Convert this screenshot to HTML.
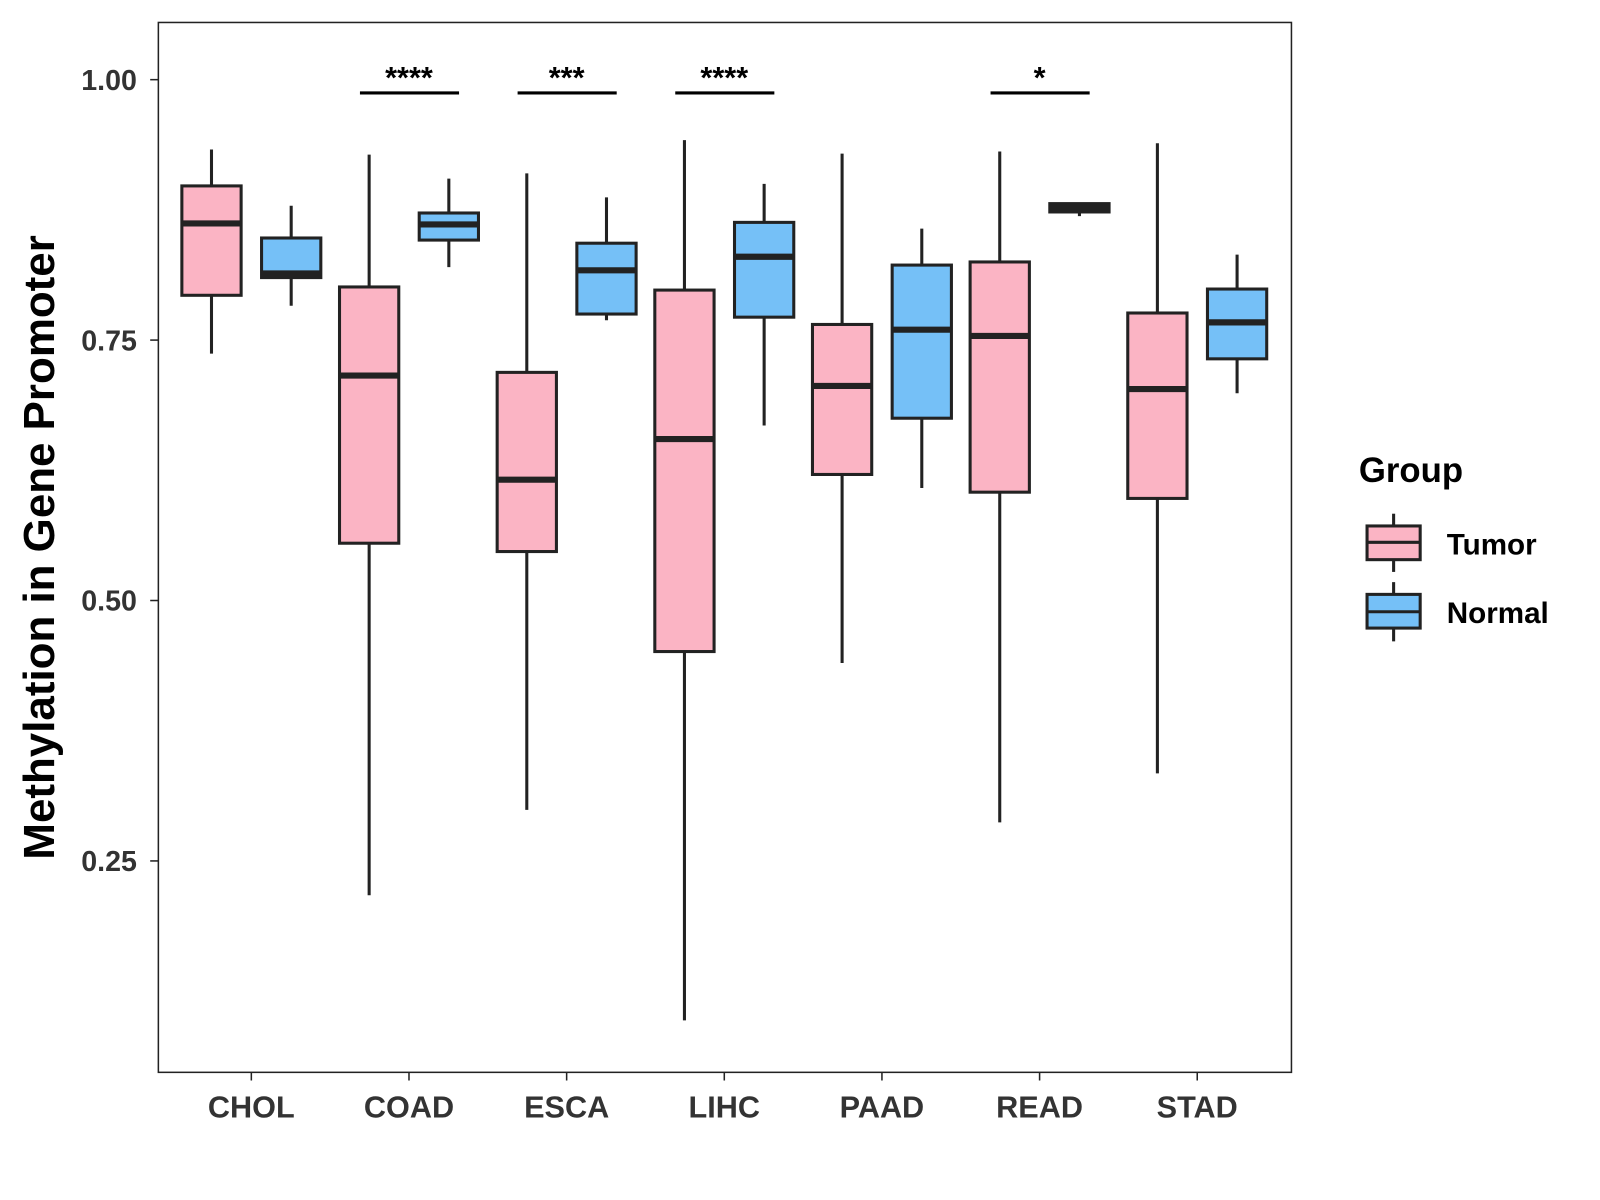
<!DOCTYPE html>
<html><head><meta charset="utf-8"><style>
body{margin:0;background:#fff;}
svg{display:block;font-family:"Liberation Sans",Arial,sans-serif;}
</style></head><body>
<svg id="chart" width="1600" height="1200" viewBox="0 0 1566 1175" preserveAspectRatio="none" xmlns="http://www.w3.org/2000/svg">
<rect x="155" y="22" width="1109" height="1028" fill="#fff" stroke="#222" stroke-width="1.5"/>
<g id="marks"></g>
<g id="axes"></g>
<text transform="translate(53,536) rotate(-90)" text-anchor="middle" font-size="43" font-weight="bold" fill="#000">Methylation in Gene Promoter</text>
<g>
<text x="1330" y="472" font-size="34" font-weight="bold">Group</text>
<g>
<line x1="1364" y1="503" x2="1364" y2="560" stroke="#222" stroke-width="3"/>
<rect x="1338" y="515" width="52" height="33" fill="#FBB4C4" stroke="#222" stroke-width="3"/>
<line x1="1338" y1="531" x2="1390" y2="531" stroke="#222" stroke-width="3"/>
<text x="1416" y="543" font-size="29" font-weight="bold">Tumor</text></g>
<g>
<line x1="1364" y1="570" x2="1364" y2="628" stroke="#222" stroke-width="3"/>
<rect x="1338" y="582" width="52" height="33" fill="#75C0F7" stroke="#222" stroke-width="3"/>
<line x1="1338" y1="599" x2="1390" y2="599" stroke="#222" stroke-width="3"/>
<text x="1416" y="610" font-size="29" font-weight="bold">Normal</text></g>
</g>
</svg>
<script>
const categories=["CHOL","COAD","ESCA","LIHC","PAAD","READ","STAD"];
// [low, q1, median, q3, high]
const tumorStats=[[0.737,0.793,0.862,0.898,0.933],[0.217,0.555,0.716,0.801,0.928],[0.299,0.547,0.616,0.719,0.910],[0.097,0.451,0.655,0.798,0.942],[0.440,0.621,0.706,0.765,0.929],[0.287,0.604,0.754,0.825,0.931],[0.334,0.598,0.703,0.776,0.939]];
const normalStats=[[0.783,0.810,0.814,0.848,0.879],[0.820,0.846,0.861,0.872,0.905],[0.769,0.775,0.817,0.843,0.887],[0.668,0.772,0.830,0.863,0.900],[0.608,0.675,0.760,0.822,0.857],[0.869,0.873,0.877,0.881,0.882],[0.699,0.732,0.767,0.799,0.832]];
const sigLabels=["","****","***","****","","*",""];
const yTicks=[0.25,0.50,0.75,1.00];
const NS="http://www.w3.org/2000/svg";
function y(v){return 78+(1-v)*1020;}
function xc(i){return 246+i*154.3;}
function mk(tag,attrs,parent){const e=document.createElementNS(NS,tag);for(const k in attrs)e.setAttribute(k,attrs[k]);parent.appendChild(e);return e;}
const marks=document.getElementById('marks'),axes=document.getElementById('axes');
function box(s,cx,fill,name){
  const g=mk('g',{},marks);
  
  
  mk('line',{x1:cx,x2:cx,y1:y(s[4]),y2:y(s[0]),stroke:'#222','stroke-width':3},g);
  mk('rect',{x:cx-29,width:58,y:y(s[3]),height:y(s[1])-y(s[3]),fill:fill,stroke:'#222','stroke-width':3},g);
  mk('line',{x1:cx-29,x2:cx+29,y1:y(s[2]),y2:y(s[2]),stroke:'#222','stroke-width':6},g);
}
categories.forEach((c,i)=>{
  box(tumorStats[i],xc(i)-39,'#FBB4C4','box-tumor-'+c.toLowerCase());
  box(normalStats[i],xc(i)+39,'#75C0F7','box-normal-'+c.toLowerCase());
  if(sigLabels[i]){
    const g=mk('g',{},marks);
    
    
    mk('line',{x1:xc(i)-48,x2:xc(i)+49,y1:91,y2:91,stroke:'#000','stroke-width':3},g);
    const t=mk('text',{x:xc(i),y:86,'text-anchor':'middle','font-size':30,'font-weight':'bold'},g);
    t.textContent=sigLabels[i];
  }
  mk('line',{x1:xc(i),x2:xc(i),y1:1050,y2:1058,stroke:'#222','stroke-width':1.5},axes);
  const t=mk('text',{x:xc(i),y:1094,'text-anchor':'middle','font-size':30,'font-weight':'bold',fill:'#333'},axes);
  
  
  t.textContent=c;
});
yTicks.forEach(v=>{
  mk('line',{x1:147,x2:155,y1:y(v),y2:y(v),stroke:'#222','stroke-width':1.5},axes);
  const t=mk('text',{x:134,y:y(v)+10,'text-anchor':'end','font-size':28,'font-weight':'bold',fill:'#333'},axes);
  
  
  t.textContent=v.toFixed(2);
});
</script>
</body></html>
